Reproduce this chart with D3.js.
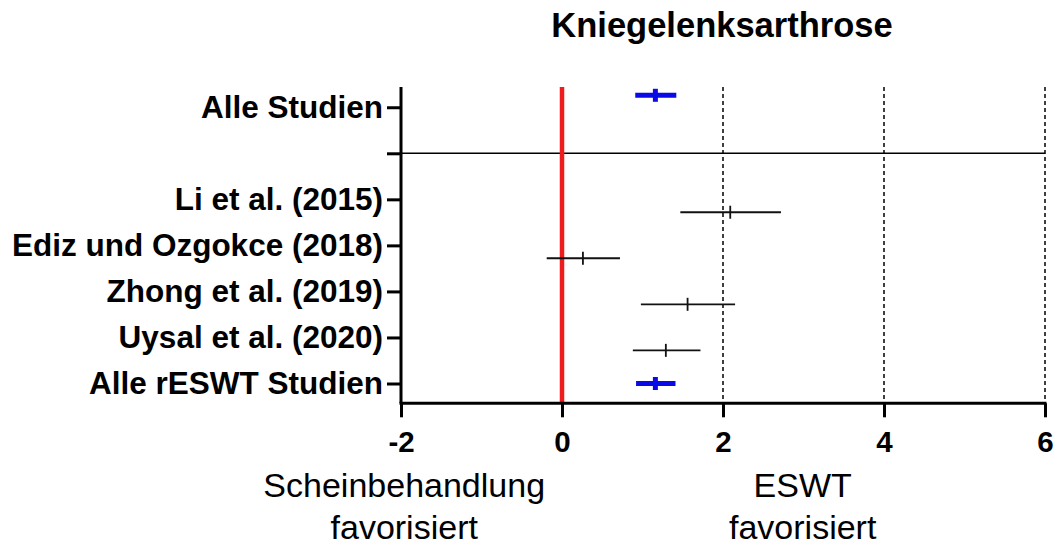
<!DOCTYPE html>
<html>
<head>
<meta charset="utf-8">
<script src="https://cdn.jsdelivr.net/npm/d3@7"></script>
<style>
  html, body { margin: 0; padding: 0; background: #fff; }
  svg { display: block; font-family: "Liberation Sans", Arial, sans-serif; }
</style>
</head>
<body>
<svg id="chart" width="1058" height="545"></svg>
<script>
// Row labels on the y axis, bottom to top (empty slot = separator row)
const rowLabels = ["Alle rESWT Studien", "Uysal et al. (2020)", "Zhong et al. (2019)",
                   "Ediz und Ozgokce (2018)", "Li et al. (2015)", "", "Alle Studien"];
const rowTicks = [0, 1, 2, 3, 4, 5, 6];
const separatorRow = 5;

// Effect estimates with confidence limits
const studyNames = ["Alle Studien", "Li et al. (2015)", "Ediz und Ozgokce (2018)",
                    "Zhong et al. (2019)", "Uysal et al. (2020)", "Alle rESWT Studien"];
const studyRow   = [6.26, 3.72, 2.72, 1.72, 0.72, 0.0];
const studyMean  = [1.16, 2.09, 0.26, 1.56, 1.29, 1.16];
const studyLow   = [0.91, 1.47, -0.19, 0.98, 0.88, 0.92];
const studyHigh  = [1.42, 2.72, 0.72, 2.15, 1.72, 1.41];
const studyPooled = [true, false, false, false, false, true];

// X axis ticks and reference lines
const xTicks = [-2, 0, 2, 4, 6];
const dashedAt = [2, 4, 6];
const nullEffect = 0;

const svg = d3.select("#chart");

const x = d3.scaleLinear().domain([-2, 6]).range([401, 1045]);
const y = d3.scaleLinear().domain([-0.43, 6.44]).range([403.3, 87]);

const rows = studyNames.map((n, i) => ({
  name: n, row: studyRow[i], mean: studyMean[i], lo: studyLow[i], hi: studyHigh[i], pooled: studyPooled[i]
}));

// Title
svg.append("text")
  .attr("x", 722).attr("y", 37)
  .attr("text-anchor", "middle")
  .attr("font-size", 34.5).attr("font-weight", "bold")
  .text("Kniegelenksarthrose");

// Dashed vertical guides
svg.append("g").selectAll("line").data(dashedAt).join("line")
  .attr("x1", d => x(d)).attr("x2", d => x(d))
  .attr("y1", y.range()[1]).attr("y2", y.range()[0])
  .attr("stroke", "#000").attr("stroke-width", 1.5)
  .attr("stroke-dasharray", "4,3");

// Separator line between overall and individual studies
svg.append("line")
  .attr("x1", x(-2)).attr("x2", x(6))
  .attr("y1", y(separatorRow)).attr("y2", y(separatorRow))
  .attr("stroke", "#000").attr("stroke-width", 1.4);

// Line of no effect
svg.append("line")
  .attr("x1", x(nullEffect)).attr("x2", x(nullEffect))
  .attr("y1", y.range()[1]).attr("y2", y.range()[0])
  .attr("stroke", "#ee1c1c").attr("stroke-width", 4.5);

// Error bars
const g = svg.append("g");
g.selectAll("line.ci").data(rows).join("line")
  .attr("class", "ci")
  .attr("x1", d => x(d.lo)).attr("x2", d => x(d.hi))
  .attr("y1", d => y(d.row)).attr("y2", d => y(d.row))
  .attr("stroke", d => d.pooled ? "#0a0ae6" : "#111")
  .attr("stroke-width", d => d.pooled ? 5 : 1.8);
g.selectAll("line.mean").data(rows).join("line")
  .attr("class", "mean")
  .attr("x1", d => x(d.mean)).attr("x2", d => x(d.mean))
  .attr("y1", d => y(d.row) - 6.5)
  .attr("y2", d => y(d.row) + 6.5)
  .attr("stroke", d => d.pooled ? "#0a0ae6" : "#111")
  .attr("stroke-width", d => d.pooled ? 5 : 1.8);

// Y axis
const yAxis = svg.append("g")
  .attr("transform", `translate(${x(-2)},0)`)
  .call(d3.axisLeft(y).tickValues(rowTicks).tickFormat(d => rowLabels[d]).tickSize(14).tickPadding(4).tickSizeOuter(0));
yAxis.select(".domain").attr("stroke-width", 3).attr("d", `M0,${y.range()[1]}V${y.range()[0]}`);
yAxis.selectAll(".tick line").attr("stroke-width", 3);
yAxis.selectAll(".tick text")
  .attr("font-size", 31.5).attr("font-weight", "bold")
  .attr("font-family", "'Liberation Sans', Arial, sans-serif")
  .attr("fill", "#000");

// X axis
const xAxis = svg.append("g")
  .attr("transform", `translate(0,${y.range()[0]})`)
  .call(d3.axisBottom(x).tickValues(xTicks).tickFormat(d3.format("d")).tickSize(14).tickPadding(14).tickSizeOuter(0));
xAxis.select(".domain").attr("stroke-width", 3).attr("d", `M${x(-2) - 1.5},0H${x(6) + 1.5}`);
xAxis.selectAll(".tick line").attr("stroke-width", 3);
xAxis.selectAll(".tick text")
  .attr("font-size", 29.5).attr("font-weight", "bold")
  .attr("font-family", "'Liberation Sans', Arial, sans-serif")
  .attr("fill", "#000")
  .text(d => d < 0 ? "-" + Math.abs(d) : d);

// Direction labels under the axis
const dirLabels = [
  { cx: x(-1.96), lines: ["Scheinbehandlung", "favorisiert"] },
  { cx: x(2.99), lines: ["ESWT", "favorisiert"] }
];
dirLabels.forEach(lab => {
  const t = svg.append("text")
    .attr("text-anchor", "middle")
    .attr("font-size", 34);
  lab.lines.forEach((s, i) => {
    t.append("tspan").attr("x", lab.cx).attr("y", 497 + i * 41.5).text(s);
  });
});
</script>
</body>
</html>
